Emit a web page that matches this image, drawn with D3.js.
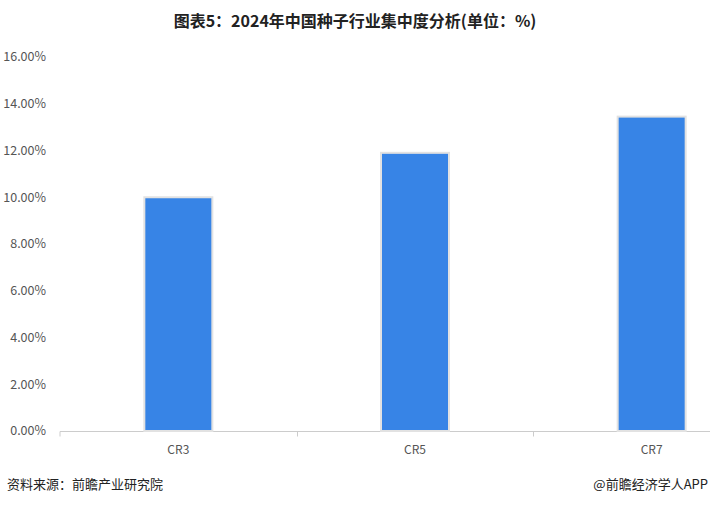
<!DOCTYPE html>
<html><head><meta charset="utf-8">
<script src="https://cdn.jsdelivr.net/npm/d3@7/dist/d3.min.js"></script>
<style>body{margin:0;background:#fff;}svg{display:block;font-family:"Microsoft YaHei","Noto Sans CJK SC",sans-serif;}</style>
</head><body><svg id="c" width="710" height="505"></svg>
<script>
const categories = ["CR3", "CR5", "CR7"];
const values = [10.0, 11.9, 13.45];
const yTicks = [0, 2, 4, 6, 8, 10, 12, 14, 16];
const titleText = "图表5：2024年中国种子行业集中度分析(单位：%)";
const sourceText = "资料来源：前瞻产业研究院";
const creditText = "@前瞻经济学人APP";

const svg = d3.select("#c");
const x = d3.scaleBand().domain(categories).range([60, 770]).paddingInner(0).paddingOuter(0);
const y = d3.scaleLinear().domain([0, 16]).range([431, 57]);

svg.append("text").attr("x", 355).attr("y", 27).attr("text-anchor", "middle")
  .attr("font-size", 16).attr("font-weight", "bold").attr("fill", "#222").text(titleText);

// y labels
svg.append("g").selectAll("text").data(yTicks).join("text")
  .attr("x", 46).attr("y", d => y(d)).attr("dy", "0.35em").attr("text-anchor", "end")
  .attr("font-size", 12.5).attr("fill", "#555").text(d => d.toFixed(2) + "%");

// x axis
const xAxis = d3.axisBottom(x).tickSize(0).tickPadding(14);
const gx = svg.append("g").attr("transform", "translate(0,431.5)").call(xAxis);
gx.select(".domain").attr("stroke", "#ccc").attr("d", "M60,5V0H770");
gx.selectAll("text").attr("font-size", 12).attr("fill", "#555").attr("font-family", "Microsoft YaHei, Noto Sans CJK SC, sans-serif");
// band boundary ticks
svg.append("g").selectAll("line").data(categories.slice(1)).join("line")
  .attr("x1", d => Math.round(x(d)) + 0.5).attr("x2", d => Math.round(x(d)) + 0.5)
  .attr("y1", 431.5).attr("y2", 436.5).attr("stroke", "#ccc");

// bars
const bw = 68;
svg.append("g").selectAll("rect").data(values).join("rect")
  .attr("x", (d, i) => x(categories[i]) + x.bandwidth() / 2 - bw / 2)
  .attr("y", d => y(d))
  .attr("width", bw)
  .attr("height", d => y(0) - y(d))
  .attr("fill", "#3784e6")
  .attr("stroke", "#e2e2e2").attr("stroke-width", 2);

svg.append("text").attr("x", 7).attr("y", 489).attr("font-size", 13).attr("fill", "#222").text(sourceText);
svg.append("text").attr("x", 708).attr("y", 489).attr("text-anchor", "end").attr("font-size", 13).attr("fill", "#222").text(creditText);
</script></body></html>
